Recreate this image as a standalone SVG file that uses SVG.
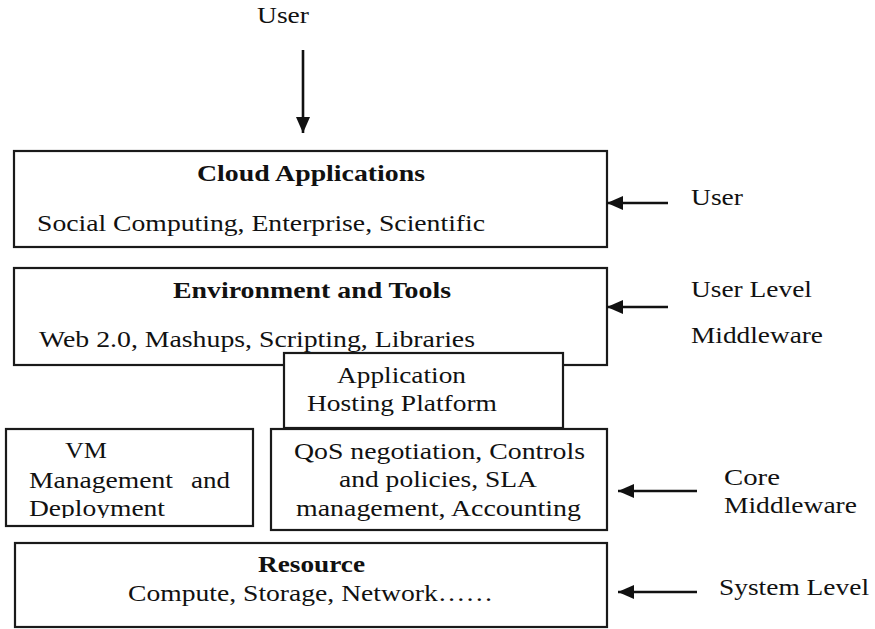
<svg xmlns="http://www.w3.org/2000/svg" width="875" height="629" viewBox="0 0 875 629">
<style>
.box{fill:#fff;stroke:#1a1a1a;stroke-width:2.2}
text{font-family:"Liberation Serif","Times New Roman",serif;font-size:23px;fill:#111}
.b{font-weight:bold}
.arr{stroke:#111;stroke-width:2.6;fill:none}
</style>
<defs>
<marker id="ah" markerUnits="userSpaceOnUse" markerWidth="18" markerHeight="16" refX="16" refY="8" orient="auto">
<path d="M0,1 L16,8 L0,15 Z" fill="#111"/>
</marker>
<clipPath id="clipDep"><rect x="0" y="430" width="260" height="88"/></clipPath>
</defs>
<rect width="875" height="629" fill="#fff"/>

<g id="user-top">
<text x="257" y="23" textLength="52" lengthAdjust="spacingAndGlyphs">User</text>
</g>

<g id="cloud-applications">
<rect class="box" x="14" y="151" width="593" height="96"/>
<text class="b" x="197" y="181" textLength="228" lengthAdjust="spacingAndGlyphs">Cloud Applications</text>
<text x="37" y="231" textLength="448" lengthAdjust="spacingAndGlyphs">Social Computing, Enterprise, Scientific</text>
</g>

<g id="environment-tools">
<rect class="box" x="14" y="268" width="593" height="97"/>
<text class="b" x="173" y="298" textLength="278" lengthAdjust="spacingAndGlyphs">Environment and Tools</text>
<text x="39" y="347" textLength="436" lengthAdjust="spacingAndGlyphs">Web 2.0, Mashups, Scripting, Libraries</text>
</g>

<g id="app-hosting">
<rect class="box" x="284" y="353" width="279" height="75"/>
<text x="337" y="383" textLength="129" lengthAdjust="spacingAndGlyphs">Application</text>
<text x="307" y="411" textLength="190" lengthAdjust="spacingAndGlyphs">Hosting Platform</text>
</g>

<g id="vm-management">
<rect class="box" x="6" y="429" width="247" height="97"/>
<text x="65" y="458" textLength="42" lengthAdjust="spacingAndGlyphs">VM</text>
<text x="29" y="488" textLength="144" lengthAdjust="spacingAndGlyphs">Management</text>
<text x="191" y="488" textLength="39" lengthAdjust="spacingAndGlyphs">and</text>
<text x="29" y="516" textLength="136" lengthAdjust="spacingAndGlyphs" clip-path="url(#clipDep)">Deployment</text>
</g>

<g id="qos">
<rect class="box" x="271" y="429" width="336" height="101"/>
<text x="294" y="459" textLength="291" lengthAdjust="spacingAndGlyphs">QoS negotiation, Controls</text>
<text x="339" y="487" textLength="198" lengthAdjust="spacingAndGlyphs">and policies, SLA</text>
<text x="296" y="516" textLength="285" lengthAdjust="spacingAndGlyphs">management, Accounting</text>
</g>

<g id="resource">
<rect class="box" x="15" y="543" width="592" height="84"/>
<text class="b" x="258" y="572" textLength="107" lengthAdjust="spacingAndGlyphs">Resource</text>
<text x="128" y="601" textLength="365" lengthAdjust="spacingAndGlyphs">Compute, Storage, Network……</text>
</g>

<g id="label-user">
<text x="691" y="205" textLength="52" lengthAdjust="spacingAndGlyphs">User</text>
</g>
<g id="label-user-level">
<text x="691" y="297" textLength="121" lengthAdjust="spacingAndGlyphs">User Level</text>
<text x="691" y="343" textLength="132" lengthAdjust="spacingAndGlyphs">Middleware</text>
</g>
<g id="label-core">
<text x="724" y="485" textLength="56" lengthAdjust="spacingAndGlyphs">Core</text>
<text x="724" y="513" textLength="133" lengthAdjust="spacingAndGlyphs">Middleware</text>
</g>
<g id="label-system">
<text x="719" y="595" textLength="150" lengthAdjust="spacingAndGlyphs">System Level</text>
</g>

<g id="connectors">
<line class="arr" x1="303" y1="50" x2="303" y2="133" marker-end="url(#ah)"/>
<line class="arr" x1="668" y1="203" x2="607" y2="203" marker-end="url(#ah)"/>
<line class="arr" x1="668" y1="307" x2="607" y2="307" marker-end="url(#ah)"/>
<line class="arr" x1="697" y1="491" x2="618" y2="491" marker-end="url(#ah)"/>
<line class="arr" x1="697" y1="592" x2="618" y2="592" marker-end="url(#ah)"/>
</g>
</svg>
